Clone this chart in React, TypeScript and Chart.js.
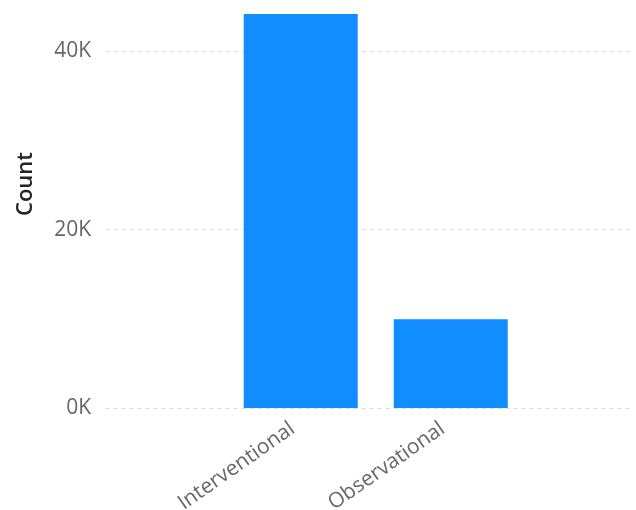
import React, { useEffect, useRef } from "react";
import { Chart, registerables } from "chart.js";

Chart.register(...registerables);

const categories: string[] = ["Interventional", "Observational"];
const counts: number[] = [44200, 10000];
const yTicks: number[] = [0, 20000, 40000];
const yMax = 44200;
const yTitle = "Count";

const FONT = "'Open Sans', sans-serif";

const yTitlePlugin = {
  id: "yTitlePlugin",
  afterDraw(chart: any) {
    const ctx = chart.ctx;
    ctx.save();
    ctx.translate(26, 184);
    ctx.rotate(-Math.PI / 2);
    ctx.fillStyle = "#252423";
    ctx.font = `600 22px ${FONT}`;
    ctx.textAlign = "center";
    ctx.textBaseline = "middle";
    ctx.fillText(yTitle, 0, 0);
    ctx.restore();
  },
};

export default function App() {
  const ref = useRef<HTMLCanvasElement | null>(null);

  useEffect(() => {
    if (!ref.current) return;
    const chart = new Chart(ref.current, {
      type: "bar",
      data: {
        datasets: [
          {
            label: yTitle,
            data: counts.map((v, i) => ({ x: i + 1, y: v })),
            backgroundColor: "#118DFF",
            borderWidth: 0,
            categoryPercentage: 1,
            barPercentage: 0.76,
          },
        ],
      },
      plugins: [yTitlePlugin],
      options: {
        animation: false,
        responsive: false,
        maintainAspectRatio: false,
        layout: { padding: { top: 14, right: 6, left: 0, bottom: 0 } },
        plugins: { legend: { display: false }, tooltip: { enabled: false } },
        scales: {
          x: {
            type: "linear",
            offset: false,
            min: -0.298,
            max: 3.195,
            grid: { display: false, drawTicks: false, offset: false },
            border: { display: false },
            afterBuildTicks: (scale: any) => {
              scale.ticks = categories.map((_, i) => ({ value: i + 1 }));
            },
            afterFit: (scale: any) => {
              scale.height = 101.5;
              scale.paddingLeft = 0;
              scale.paddingRight = 0;
            },
            ticks: {
              minRotation: 35,
              maxRotation: 35,
              autoSkip: false,
              padding: 8,
              labelOffset: -8,
              color: "#666666",
              font: { family: FONT, size: 21 },
              callback: (v: any) => categories[Number(v) - 1] ?? "",
            },
          },
          y: {
            min: 0,
            max: yMax,
            grid: {
              color: "#d4d4d4",
              lineWidth: 1,
              drawTicks: false,
            },
            border: { display: false, dash: [3, 5] },
            afterBuildTicks: (scale: any) => {
              scale.ticks = yTicks.map((v) => ({ value: v }));
            },
            afterFit: (scale: any) => {
              scale.width = 106;
              scale.paddingTop = 0;
              scale.paddingBottom = 0;
            },
            ticks: {
              padding: 15,
              color: "#666666",
              font: { family: FONT, size: 21 },
              callback: (v: any) => `${Math.round(Number(v) / 1000)}K`,
            },
            title: { display: false, text: yTitle },
          },
        },
      },
    } as any);
    return () => chart.destroy();
  }, []);

  return (
    <div style={{ position: "fixed", left: 0, top: 0, width: 636, height: 510, background: "#fff" }}>
      <canvas ref={ref} width={636} height={510} style={{ width: 636, height: 510, display: "block" }} />
    </div>
  );
}
